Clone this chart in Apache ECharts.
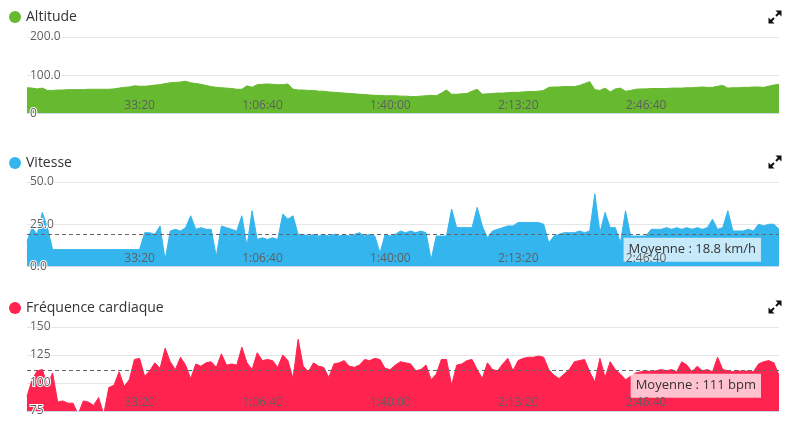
<!DOCTYPE html>
<html><head><meta charset="utf-8">
<script src="https://cdn.jsdelivr.net/npm/echarts@6/dist/echarts.min.js"></script>
<style>html,body{margin:0;padding:0;background:#fff}#c{width:798px;height:425px}</style>
</head><body><div id="c"></div>
<script>
// sampling step of the recorded activity (seconds between samples)
const sampleSeconds = 80;
const totalSeconds = 11760;

const altitude = [
 67,66,64,66,60,60,61,61,62,62,
 62,62,63,63,63,63,63,64,66,68,
 69,72,71,71,72,74,75,78,80,81,
 82,84,80,78,76,73,70,68,67,66,
 65,63,63,72,68,75,76,77,76,75,
 75,77,63,61,61,60,60,58,58,56,
 55,54,53,52,51,50,49,48,47,47,
 46,46,46,45,45,44,44,45,46,47,
 46,53,61,50,50,51,52,58,63,50,
 51,52,53,53,54,55,55,56,57,57,
 58,60,68,69,69,70,70,70,73,78,
 83,62,60,66,56,64,66,58,60,63,
 64,64,65,65,65,65,66,66,66,67,
 67,68,69,68,68,71,73,66,67,67,
 68,68,69,69,68,71,74,76
];
const vitesse = [
 15,23,19,32,23,10,10,10,10,10,
 10,10,10,10,10,10,10,10,10,10,
 10,10,10,20,20,19,24,4,21,22,
 21,23,30,22,23,22,22,6,24,23,
 22,21,30,12,33,16,17,16,17,16,
 31,28,30,19,19,18,19,18,19,18,
 19,18,19,18,19,20,18,19,18,8,
 19,18,19,21,20,21,20,21,20,4,
 18,18,18,34,23,23,23,23,35,24,
 17,21,22,23,24,24,26,26,26,26,
 26,25,14,18,19,20,20,20,21,20,
 21,43,20,32,23,23,14,33,18,18,
 18,18,22,22,22,23,22,23,22,23,
 22,23,22,23,28,22,23,33,21,21,
 21,22,21,25,24,25,25,22
];
const frequence = [
 88,103,111,112,98,109,83,84,82,82,
 72,84,83,80,87,72,96,98,110,97,
 103,121,122,106,111,118,113,131,119,112,
 123,116,104,117,115,118,119,114,126,116,
 117,116,132,118,112,127,120,121,120,114,
 125,120,104,139,115,110,118,115,114,105,
 117,118,120,115,114,116,121,120,122,121,
 113,112,116,119,118,117,111,112,116,103,
 108,121,121,98,116,117,120,121,112,104,
 118,112,111,117,122,111,120,122,123,123,
 124,123,112,107,104,108,112,119,120,121,
 110,101,122,105,119,112,108,103,106,109,
 110,111,110,111,112,111,112,110,119,116,
 110,115,111,112,110,123,112,111,110,111,
 110,111,110,117,119,120,118,107
];
const vitesseMoyenne = 18.8;
const frequenceMoyenne = 111;

const xTickLabels = ['33:20','1:06:40','1:40:00','2:13:20','2:46:40'];
const altitudeTicks = ['0','100.0','200.0'];
const vitesseTicks = ['0.0','25.0','50.0'];
const frequenceTicks = ['75','100','125','150'];
const titles = ['Altitude','Vitesse','Fréquence cardiaque'];

const colors = ['#67b930','#35b5ee','#ff2450'];
const panels = [
  {data: altitude, min: 0, max: 200, step: 100, ticks: altitudeTicks, grid: {top: 37, height: 76.3}, legendTop: 5, iconTop: 10},
  {data: vitesse, min: 0, max: 50, step: 25, ticks: vitesseTicks, grid: {top: 182, height: 84.5}, legendTop: 151, iconTop: 155,
   mean: vitesseMoyenne, meanText: 'Moyenne : ' + vitesseMoyenne + ' km/h', meanBg: 'rgba(255,255,255,0.72)'},
  {data: frequence, min: 75, max: 150, step: 25, ticks: frequenceTicks, grid: {top: 327, height: 84}, legendTop: 296, iconTop: 300,
   mean: frequenceMoyenne, meanText: 'Moyenne : ' + frequenceMoyenne + ' bpm', meanBg: 'rgba(255,255,255,0.72)'}
];

const font = 'Open Sans';
function expandIcon(top) {
  return {type: 'group', left: 768, top: top, children: [
    {type: 'polygon', shape: {points: [[13,0],[7,0],[13,6]]}, style: {fill: '#111'}},
    {type: 'line', shape: {x1: 11, y1: 2, x2: 7.5, y2: 5.5}, style: {stroke: '#111', lineWidth: 2}},
    {type: 'polygon', shape: {points: [[0,13],[0,7],[6,13]]}, style: {fill: '#111'}},
    {type: 'line', shape: {x1: 2, y1: 11, x2: 5.5, y2: 7.5}, style: {stroke: '#111', lineWidth: 2}}
  ]};
}

const option = {
  animation: false,
  backgroundColor: '#fff',
  grid: panels.map(p => ({left: 27, right: 19, top: p.grid.top, height: p.grid.height})),
  legend: panels.map((p, k) => ({
    data: [titles[k]], left: 4, top: p.legendTop, icon: 'circle', itemWidth: 12, itemHeight: 12,
    selectedMode: false, textStyle: {fontSize: 14, color: '#333', fontFamily: font}
  })),
  graphic: panels.map(p => expandIcon(p.iconTop)),
  xAxis: panels.map((p, k) => ({
    type: 'value', gridIndex: k, min: 0, max: totalSeconds, interval: 2000, z: 10,
    axisLine: {show: true, lineStyle: {color: '#ccd6eb'}},
    axisTick: {show: false}, splitLine: {show: false},
    axisLabel: {inside: true, align: 'right', margin: 2, color: '#5f5f5f', fontSize: 12, fontFamily: font,
      showMinLabel: false, showMaxLabel: false,
      formatter: v => xTickLabels[Math.round(v / 2000) - 1] || ''}
  })),
  yAxis: panels.map((p, k) => ({
    type: 'value', gridIndex: k, min: p.min, max: p.max, interval: p.step, position: 'left',
    axisLine: {show: false}, axisTick: {show: false}, axisLabel: {show: false},
    splitLine: {show: true, lineStyle: {color: '#e6e6e6'}}
  })).concat(panels.map((p, k) => ({
    type: 'value', gridIndex: k, min: p.min, max: p.max, interval: p.step, position: 'left', z: 10,
    axisLine: {show: false}, axisTick: {show: false}, splitLine: {show: false},
    axisLabel: {inside: true, margin: 3, color: '#5f5f5f', fontSize: 12, fontFamily: font,
      verticalAlign: 'middle', padding: [0, 0, 3, 0],
      textBorderColor: '#fff', textBorderWidth: 2,
      formatter: v => p.ticks[Math.round((v - p.min) / p.step)]}
  }))),
  series: panels.map((p, k) => {
    const s = {
      name: titles[k], type: 'line', xAxisIndex: k, yAxisIndex: k,
      data: p.data.map((v, i) => [i * sampleSeconds, v]),
      showSymbol: false, symbol: 'none',
      lineStyle: {width: 1, color: colors[k]}, itemStyle: {color: colors[k]},
      areaStyle: {color: colors[k], opacity: 1}
    };
    if (p.mean !== undefined) {
      s.markLine = {
        symbol: ['none', 'none'], silent: true, animation: false,
        data: [{yAxis: p.mean}],
        lineStyle: {type: [4, 3], color: '#666', width: 1},
        label: {position: 'insideEndBottom', formatter: p.meanText, color: '#333', fontSize: 13,
          fontFamily: font, backgroundColor: p.meanBg, padding: [4, 5], lineHeight: 16, distance: [18, 3]},
        emphasis: {disabled: true}
      };
    }
    return s;
  })
};

const chart = echarts.init(document.getElementById('c'));
chart.setOption(option);
</script></body></html>
